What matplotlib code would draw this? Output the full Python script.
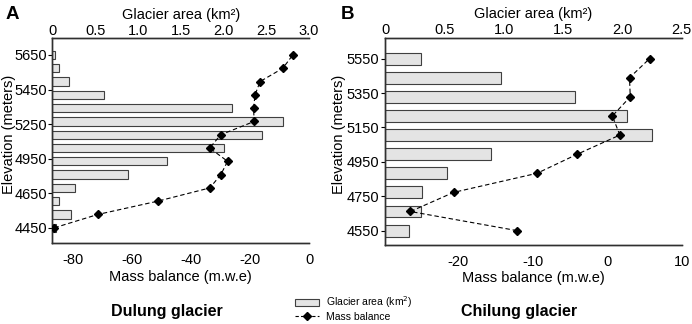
import matplotlib.pyplot as plt
from matplotlib.lines import Line2D
from matplotlib.patches import Patch

plt.rcParams['font.family'] = ['Liberation Sans', 'DejaVu Sans']
plt.rcParams['font.size'] = 10.5
plt.rcParams['axes.unicode_minus'] = False

# Dulung glacier (painel A), de baixo (4450) para cima (5650)
dulung_area = [0.04, 0.22, 0.08, 0.26, 0.89, 1.34, 2.01, 2.45, 2.70, 2.10, 0.60, 0.20, 0.08, 0.03]
dulung_mb = [-86.3, -71.6, -51.3, -33.6, -29.9, -27.6, -33.7, -29.9, -18.6, -18.8, -18.3, -16.6, -8.9, -5.5]
dulung_ticks = ['4450', '4650', '4950', '5250', '5450', '5650']

# Chilung glacier (painel B), de baixo (4550) para cima (5550)
chilung_area = [0.20, 0.30, 0.31, 0.52, 0.89, 2.25, 2.04, 1.60, 0.98, 0.30]
chilung_mb = [-12.1, -26.4, -20.6, -9.4, -4.0, 1.7, 0.7, 3.1, 3.0, 5.7]
chilung_ticks = ['4550', '4750', '4950', '5150', '5350', '5550']

fig = plt.figure(figsize=(6.92, 3.24), dpi=100)


def painel(rect, area, mb, tick_labels, area_max, area_ticks, mb_lim, mb_ticks, ylim, title, ylab_x):
    n = len(area)
    pos = list(range(n))
    ax = fig.add_axes(rect)
    mbax = ax.twiny()

    # barras: area da geleira (eixo de cima)
    ax.barh(pos, area, height=0.62, color='#e4e4e4', edgecolor='#404040', linewidth=0.8, zorder=2)
    ax.set_xlim(0, area_max)
    ax.set_xticks(area_ticks)
    ax.set_xticklabels(['0'] + ['%.1f' % t for t in area_ticks[1:]])
    ax.xaxis.tick_top()
    ax.xaxis.set_label_position('top')
    ax.set_xlabel('Glacier area (km²)', labelpad=3.5)
    ax.set_ylim(*ylim)
    step = (n - 1) / (len(tick_labels) - 1)
    ax.set_yticks([i * step for i in range(len(tick_labels))])
    ax.set_yticklabels(tick_labels)
    ax.tick_params(axis='x', length=0, pad=0.5)
    ax.tick_params(axis='y', length=3, width=0.8, pad=1)

    # linha: balanco de massa (eixo de baixo)
    mbax.plot(mb, pos, color='black', linestyle='--', dashes=(4, 2.5), linewidth=0.8,
              marker='D', markersize=4.5, zorder=3)
    mbax.set_xlim(*mb_lim)
    mbax.set_xticks(mb_ticks)
    mbax.xaxis.tick_bottom()
    mbax.xaxis.set_label_position('bottom')
    mbax.set_xlabel('Mass balance (m.w.e)', labelpad=2)
    mbax.tick_params(axis='x', length=0, pad=7)

    for a in (ax, mbax):
        a.spines['right'].set_visible(False)
        for s in ['left', 'top', 'bottom']:
            a.spines[s].set_linewidth(1.0)
            a.spines[s].set_color('#303030')

    fig.text(ylab_x, (rect[1] + rect[3] / 2) + 0.02, 'Elevation (meters)', rotation=90,
             ha='center', va='center', fontsize=10.5)
    fig.text(rect[0] + rect[2] / 2 - 0.02, 0.04, title, ha='center', va='center',
             fontsize=11.5, fontweight='bold')


painel([0.0756, 0.249, 0.371, 0.633], dulung_area, dulung_mb, dulung_ticks,
       3.0, [0, 0.5, 1.0, 1.5, 2.0, 2.5, 3.0], (-87, 0), [-80, -60, -40, -20, 0],
       (-1.17, 14.26), 'Dulung glacier', 0.013)
painel([0.5564, 0.244, 0.4287, 0.640], chilung_area, chilung_mb, chilung_ticks,
       2.5, [0, 0.5, 1.0, 1.5, 2.0, 2.5], (-29.8, 10), [-20, -10, 0, 10],
       (-0.75, 10.1), 'Chilung glacier', 0.490)

fig.text(0.008, 0.955, 'A', fontsize=13.5, fontweight='bold', va='center')
fig.text(0.492, 0.955, 'B', fontsize=13.5, fontweight='bold', va='center')

handles = [Patch(facecolor='#e4e4e4', edgecolor='#404040', linewidth=0.8),
           Line2D([], [], color='black', linestyle='--', dashes=(3, 2), linewidth=0.8,
                  marker='D', markersize=4)]
fig.legend(handles, ['Glacier area (km$^2$)', 'Mass balance'], loc='upper left',
           bbox_to_anchor=(0.427, 0.092), frameon=False, fontsize=7.5, handlelength=2.3,
           handletextpad=0.6, labelspacing=0.15, borderpad=0, borderaxespad=0)

fig.savefig('out.png', dpi=100)
